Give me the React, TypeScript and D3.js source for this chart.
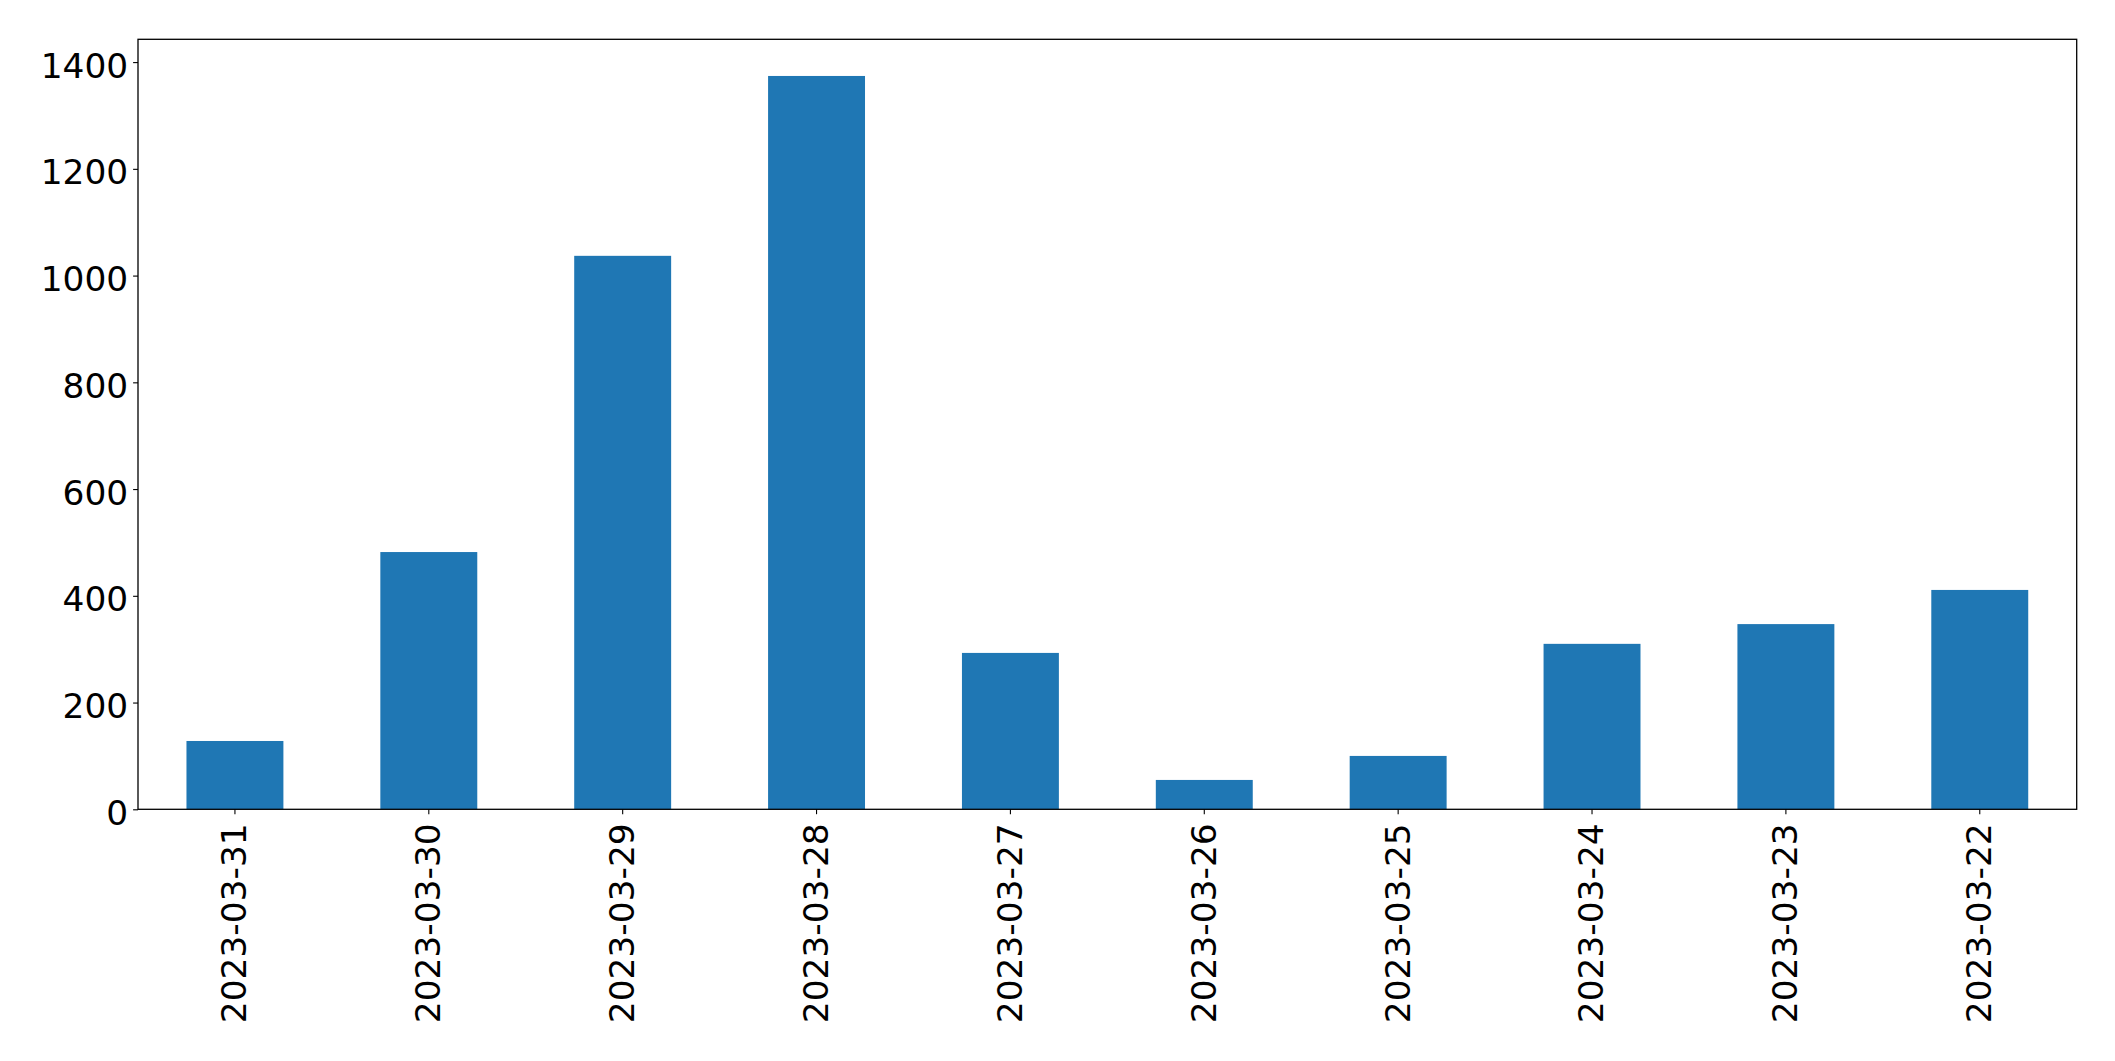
import { useEffect, useRef } from "react";
import * as d3 from "d3";

// dates as they appear on the x axis (newest first, as in the source)
const dates = [
  "2023-03-31",
  "2023-03-30",
  "2023-03-29",
  "2023-03-28",
  "2023-03-27",
  "2023-03-26",
  "2023-03-25",
  "2023-03-24",
  "2023-03-23",
  "2023-03-22",
];

// counts per day
const counts = [128, 482, 1037, 1374, 293, 55, 100, 310, 347, 411];

const yTicks = [0, 200, 400, 600, 800, 1000, 1200, 1400];

const WIDTH = 2115;
const HEIGHT = 1061;
const FONT = "'DejaVu Sans', Verdana, sans-serif";
const FONT_SIZE = "34.4px";

export default function App() {
  const svgRef = useRef<SVGSVGElement | null>(null);

  useEffect(() => {
    if (!svgRef.current) return;
    const margin = { top: 39.3, right: 38.3, bottom: HEIGHT - 809.3, left: 138 };
    const w = WIDTH - margin.left - margin.right;
    const h = HEIGHT - margin.top - margin.bottom;

    const svg = d3.select(svgRef.current);
    svg.selectAll("*").remove();

    svg.append("rect").attr("width", WIDTH).attr("height", HEIGHT).attr("fill", "#fff");

    const g = svg.append("g").attr("transform", `translate(${margin.left},${margin.top})`);

    const x = d3.scaleBand<string>()
      .domain(dates)
      .range([0, w])
      .paddingInner(0.5)
      .paddingOuter(0.25);

    // matplotlib leaves 5% headroom above the tallest bar
    const y = d3.scaleLinear()
      .domain([0, (d3.max(counts) ?? 0) * 1.05])
      .range([h, 0]);

    // bars
    g.append("g")
      .selectAll("rect")
      .data(dates)
      .enter()
      .append("rect")
      .attr("x", d => x(d) ?? 0)
      .attr("y", (_, i) => y(counts[i]))
      .attr("width", x.bandwidth())
      .attr("height", (_, i) => h - y(counts[i]))
      .attr("fill", "#1f77b4");

    // y axis
    const yAxis = g.append("g")
      .call(d3.axisLeft(y).tickValues(yTicks).tickSize(4.9).tickSizeOuter(0).tickPadding(4.9).tickFormat(d => `${d}`));
    yAxis.select(".domain").remove();
    yAxis.selectAll("line").attr("stroke", "#000").attr("stroke-width", 1.1);
    yAxis.selectAll("text")
      .attr("fill", "#000")
      .attr("font-size", FONT_SIZE)
      .attr("font-family", FONT)
      .attr("dy", "0.44em");

    // x axis, labels turned upright
    const xAxis = g.append("g")
      .attr("transform", `translate(0,${h})`)
      .call(d3.axisBottom(x).tickSize(4.9).tickSizeOuter(0).tickPadding(0));
    xAxis.select(".domain").remove();
    xAxis.selectAll("line").attr("stroke", "#000").attr("stroke-width", 1.1);
    xAxis.selectAll("text")
      .attr("fill", "#000")
      .attr("font-size", FONT_SIZE)
      .attr("font-family", FONT)
      .attr("text-anchor", "end")
      .attr("transform", "translate(0,14) rotate(-90)")
      .attr("x", 0)
      .attr("y", 0)
      .attr("dy", "0.33em");

    // frame
    g.append("rect")
      .attr("width", w)
      .attr("height", h)
      .attr("fill", "none")
      .attr("stroke", "#000")
      .attr("stroke-width", 1.3);
  }, []);

  return (
    <svg
      ref={svgRef}
      width={WIDTH}
      height={HEIGHT}
      style={{ position: "absolute", left: 0, top: 0 }}
    />
  );
}
